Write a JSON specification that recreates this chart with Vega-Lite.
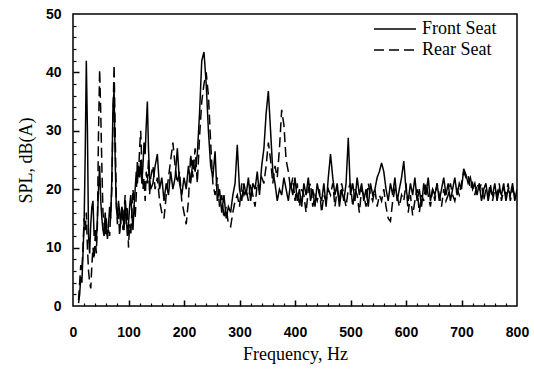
{
 "$schema": "https://vega.github.io/schema/vega-lite/v6.json",
 "width": 444,
 "height": 292,
 "autosize": {"type": "none"},
 "padding": {"left": 73, "top": 14, "right": 17, "bottom": 64},
 "background": "white",
 "data": {"values": [
  {"f":10,"front":0.5,"rear":1},{"f":12,"front":2,"rear":4},{"f":14,"front":5,"rear":7},{"f":16,"front":4,"rear":6},{"f":18,"front":9,"rear":10},
  {"f":20,"front":14,"rear":15},{"f":22,"front":26,"rear":13},{"f":24,"front":42,"rear":16},{"f":26,"front":30,"rear":10},{"f":28,"front":12,"rear":6},
  {"f":30,"front":9,"rear":4},{"f":32,"front":14,"rear":3},{"f":34,"front":17,"rear":7},{"f":36,"front":18,"rear":10},{"f":38,"front":12,"rear":8},
  {"f":40,"front":13,"rear":12},{"f":42,"front":11,"rear":9},{"f":44,"front":15,"rear":14},{"f":46,"front":20,"rear":30},{"f":48,"front":24,"rear":40.5},
  {"f":50,"front":18,"rear":33},{"f":52,"front":15,"rear":24},{"f":54,"front":13,"rear":16},{"f":56,"front":12,"rear":14},{"f":58,"front":16,"rear":12},
  {"f":60,"front":13,"rear":15},{"f":62,"front":12,"rear":11.5},{"f":64,"front":14,"rear":13},{"f":66,"front":17,"rear":12},{"f":68,"front":15,"rear":16},
  {"f":70,"front":22,"rear":20},{"f":72,"front":34,"rear":32},{"f":74,"front":37,"rear":41.3},{"f":76,"front":25,"rear":30},{"f":78,"front":17,"rear":18},
  {"f":80,"front":15,"rear":14},{"f":82,"front":18,"rear":16},{"f":84,"front":16,"rear":12},{"f":86,"front":14,"rear":15},{"f":88,"front":17,"rear":17},
  {"f":90,"front":16,"rear":13},{"f":92,"front":13,"rear":16},{"f":94,"front":18,"rear":19},{"f":96,"front":15,"rear":14},{"f":98,"front":12,"rear":17},
  {"f":100,"front":14,"rear":10},{"f":102,"front":17,"rear":14},{"f":104,"front":19,"rear":12},{"f":106,"front":16,"rear":16},{"f":108,"front":13,"rear":20},
  {"f":110,"front":17,"rear":18},{"f":112,"front":20,"rear":15},{"f":114,"front":23,"rear":19},{"f":116,"front":21,"rear":25},{"f":118,"front":24,"rear":22},
  {"f":120,"front":22,"rear":27},{"f":122,"front":25,"rear":30},{"f":124,"front":21,"rear":24},{"f":126,"front":24,"rear":20},{"f":128,"front":28,"rear":22},
  {"f":130,"front":26,"rear":18},{"f":132,"front":31,"rear":23},{"f":134,"front":35,"rear":21},{"f":136,"front":27,"rear":25},{"f":138,"front":22,"rear":19},
  {"f":140,"front":20,"rear":22},{"f":144,"front":21,"rear":24},{"f":148,"front":24,"rear":20},{"f":152,"front":26,"rear":22},{"f":156,"front":20,"rear":18},
  {"f":160,"front":22,"rear":16},{"f":164,"front":18,"rear":15},{"f":168,"front":21,"rear":19},{"f":172,"front":19,"rear":22},{"f":176,"front":23,"rear":25},
  {"f":180,"front":20,"rear":28},{"f":184,"front":22,"rear":24},{"f":188,"front":27,"rear":21},{"f":192,"front":21,"rear":23},{"f":196,"front":19,"rear":18},
  {"f":200,"front":22,"rear":16},{"f":204,"front":20,"rear":14},{"f":208,"front":24,"rear":18},{"f":212,"front":21,"rear":26},{"f":216,"front":25,"rear":22},
  {"f":220,"front":23,"rear":27},{"f":224,"front":26,"rear":21},{"f":228,"front":33,"rear":29},{"f":232,"front":42,"rear":35},{"f":236,"front":43.5,"rear":38},
  {"f":240,"front":38,"rear":40},{"f":244,"front":30,"rear":36},{"f":248,"front":24,"rear":28},{"f":252,"front":22,"rear":21},{"f":256,"front":26.5,"rear":19},
  {"f":260,"front":18,"rear":22},{"f":264,"front":20,"rear":17},{"f":268,"front":16,"rear":19},{"f":272,"front":19,"rear":15},{"f":276,"front":15,"rear":17},
  {"f":280,"front":17,"rear":14},{"f":284,"front":16,"rear":13.6},{"f":288,"front":19,"rear":16},{"f":292,"front":21,"rear":18},{"f":296,"front":27.6,"rear":19},
  {"f":300,"front":20,"rear":17},{"f":304,"front":18,"rear":21},{"f":308,"front":21,"rear":19},{"f":312,"front":19,"rear":20},{"f":316,"front":22,"rear":18},
  {"f":320,"front":18,"rear":21},{"f":324,"front":21,"rear":19},{"f":328,"front":20,"rear":17},{"f":332,"front":23,"rear":21},{"f":336,"front":19,"rear":20},
  {"f":340,"front":24,"rear":22},{"f":344,"front":27,"rear":21},{"f":348,"front":33,"rear":24},{"f":352,"front":36.8,"rear":28},{"f":356,"front":30,"rear":25},
  {"f":360,"front":23,"rear":21},{"f":364,"front":21,"rear":24},{"f":368,"front":18,"rear":22},{"f":372,"front":20,"rear":27},{"f":376,"front":19,"rear":33.6},
  {"f":380,"front":22,"rear":31},{"f":384,"front":20,"rear":25},{"f":388,"front":18,"rear":23},{"f":392,"front":21,"rear":20},{"f":396,"front":19,"rear":22},
  {"f":400,"front":22,"rear":18},{"f":404,"front":18,"rear":21},{"f":408,"front":20,"rear":17},{"f":412,"front":17,"rear":20},{"f":416,"front":21,"rear":19},
  {"f":420,"front":19,"rear":16},{"f":424,"front":22,"rear":20},{"f":428,"front":18,"rear":21},{"f":432,"front":20,"rear":17},{"f":436,"front":17,"rear":19},
  {"f":440,"front":21,"rear":18},{"f":444,"front":19,"rear":20},{"f":448,"front":18,"rear":16},{"f":452,"front":21,"rear":19},{"f":456,"front":17,"rear":18},
  {"f":460,"front":22,"rear":20},{"f":464,"front":26,"rear":19},{"f":468,"front":22,"rear":21},{"f":472,"front":19,"rear":17},{"f":476,"front":21,"rear":20},
  {"f":480,"front":17,"rear":18},{"f":484,"front":20,"rear":21},{"f":488,"front":18,"rear":19},{"f":492,"front":21,"rear":17},{"f":496,"front":28.8,"rear":20},
  {"f":500,"front":19,"rear":21},{"f":504,"front":21,"rear":17},{"f":508,"front":18,"rear":20},{"f":512,"front":22,"rear":19},{"f":516,"front":19,"rear":16},
  {"f":520,"front":21,"rear":20},{"f":524,"front":18,"rear":19},{"f":528,"front":20,"rear":17},{"f":532,"front":17,"rear":21},{"f":536,"front":21,"rear":19},
  {"f":540,"front":19,"rear":18},{"f":544,"front":20,"rear":20},{"f":548,"front":22,"rear":17},{"f":552,"front":23,"rear":19},{"f":556,"front":24.5,"rear":18},
  {"f":560,"front":23,"rear":20},{"f":564,"front":20,"rear":17},{"f":568,"front":18,"rear":15},{"f":572,"front":21,"rear":14.5},{"f":576,"front":19,"rear":18},
  {"f":580,"front":22,"rear":20},{"f":584,"front":18,"rear":19},{"f":588,"front":20,"rear":17},{"f":592,"front":22,"rear":19},{"f":596,"front":24.8,"rear":18},
  {"f":600,"front":20,"rear":21},{"f":604,"front":18,"rear":16},{"f":608,"front":21,"rear":19},{"f":612,"front":19,"rear":15.5},{"f":616,"front":22,"rear":18},
  {"f":620,"front":18,"rear":20},{"f":624,"front":20,"rear":16},{"f":628,"front":17,"rear":19},{"f":632,"front":21,"rear":18},{"f":636,"front":19,"rear":21},
  {"f":640,"front":22,"rear":19},{"f":644,"front":18,"rear":17},{"f":648,"front":20,"rear":20},{"f":652,"front":19,"rear":18},{"f":656,"front":21,"rear":21},
  {"f":660,"front":18,"rear":19},{"f":664,"front":20,"rear":17},{"f":668,"front":22,"rear":20},{"f":672,"front":19,"rear":18},{"f":676,"front":21,"rear":19},
  {"f":680,"front":18,"rear":21},{"f":684,"front":20,"rear":19},{"f":688,"front":22,"rear":18},{"f":692,"front":19,"rear":20},{"f":696,"front":21,"rear":19},
  {"f":700,"front":20,"rear":21},{"f":704,"front":23.5,"rear":23},{"f":708,"front":22.5,"rear":22},{"f":712,"front":21,"rear":22.5},{"f":716,"front":22,"rear":20},
  {"f":720,"front":20,"rear":21},{"f":724,"front":21,"rear":19},{"f":728,"front":19,"rear":21},{"f":732,"front":21,"rear":20},{"f":736,"front":18,"rear":21},
  {"f":740,"front":20,"rear":18},{"f":744,"front":21,"rear":20},{"f":748,"front":18,"rear":19},{"f":752,"front":20,"rear":21},{"f":756,"front":19,"rear":18},
  {"f":760,"front":21,"rear":20},{"f":764,"front":18,"rear":19},{"f":768,"front":20,"rear":21},{"f":772,"front":19,"rear":18},{"f":776,"front":21,"rear":20},
  {"f":780,"front":18,"rear":19},{"f":784,"front":20,"rear":21},{"f":788,"front":19,"rear":18},{"f":792,"front":21,"rear":20},{"f":796,"front":18,"rear":19},
  {"f":800,"front":20,"rear":19}
 ]},
 "transform": [{"fold": ["front", "rear"], "as": ["seat", "spl"]}],
 "layer": [
  {
   "mark": {"type": "line", "color": "black", "strokeWidth": 1.5, "clip": true},
   "encoding": {
    "x": {
     "field": "f", "type": "quantitative",
     "scale": {"domain": [0, 800], "nice": false, "zero": false},
     "axis": {
      "orient": "bottom",
      "title": "Frequency, Hz",
      "values": [0,100,200,300,400,500,600,700,800],
      "tickSize": -6,
      "tickOpacity": 0,
      "labelFlush": false,
      "labelPadding": 25,
      "titlePadding": 6,
      "gridOpacity": 0,
      "domain": false
     }
    },
    "y": {
     "field": "spl", "type": "quantitative",
     "scale": {"domain": [0, 50], "nice": false, "zero": false},
     "axis": {
      "orient": "left",
      "title": "SPL, dB(A)",
      "values": [0,10,20,30,40,50],
      "tickSize": -6,
      "tickOpacity": 0,
      "labelPadding": 18,
      "titlePadding": 10,
      "gridOpacity": 0,
      "domain": false
     }
    },
    "strokeDash": {
     "field": "seat", "type": "nominal",
     "scale": {"domain": ["front", "rear"], "range": [[1, 0], [10, 5]]},
     "legend": {
      "title": null,
      "orient": "none",
      "legendX": 327,
      "legendY": 6,
      "symbolType": "M-5,0H1",
      "symbolSize": 196,
      "symbolStrokeWidth": 1.3,
      "symbolStrokeColor": "black",
      "symbolFillColor": "transparent",
      "labelExpr": "datum.value === 'front' ? 'Front Seat' : 'Rear Seat'",
      "labelFont": "Liberation Serif",
      "labelFontSize": 18,
      "labelColor": "black",
      "labelOffset": 4,
      "rowPadding": 3,
      "padding": 0
     }
    }
   }
  },
  {
   "mark": {"type": "line", "opacity": 0},
   "encoding": {
    "x": {
     "field": "f", "type": "quantitative",
     "scale": {"domain": [0, 800], "nice": false, "zero": false},
     "axis": {
      "orient": "bottom",
      "title": null,
      "values": [100,200,300,400,500,600,700],
      "labels": false,
      "ticks": true,
      "tickSize": -6,
      "tickWidth": 1.5,
      "tickColor": "black",
      "gridOpacity": 0,
      "domain": false
     }
    },
    "y": {
     "field": "spl", "type": "quantitative",
     "scale": {"domain": [0, 50], "nice": false, "zero": false},
     "axis": {
      "orient": "left",
      "title": null,
      "values": [10,20,30,40],
      "labels": false,
      "ticks": true,
      "tickSize": -6,
      "tickWidth": 1.5,
      "tickColor": "black",
      "gridOpacity": 0,
      "domain": false
     }
    },
    "detail": {"field": "seat", "type": "nominal"}
   }
  },
  {
   "mark": {"type": "line", "opacity": 0},
   "encoding": {
    "x": {
     "field": "f", "type": "quantitative",
     "scale": {"domain": [0, 800], "nice": false, "zero": false},
     "axis": {
      "orient": "bottom",
      "title": null,
      "values": [20,40,60,80,120,140,160,180,220,240,260,280,320,340,360,380,420,440,460,480,520,540,560,580,620,640,660,680,720,740,760,780],
      "labels": false,
      "ticks": true,
      "tickSize": -3,
      "tickWidth": 1.2,
      "tickColor": "black",
      "gridOpacity": 0,
      "domain": false
     }
    },
    "y": {
     "field": "spl", "type": "quantitative",
     "scale": {"domain": [0, 50], "nice": false, "zero": false},
     "axis": {
      "orient": "left",
      "title": null,
      "values": [2,4,6,8,12,14,16,18,22,24,26,28,32,34,36,38,42,44,46,48],
      "labels": false,
      "ticks": true,
      "tickSize": -3,
      "tickWidth": 1.2,
      "tickColor": "black",
      "gridOpacity": 0,
      "domain": false
     }
    },
    "detail": {"field": "seat", "type": "nominal"}
   }
  }
 ],
 "resolve": {"axis": {"x": "independent", "y": "independent"}},
 "config": {
  "view": {"stroke": "black", "strokeWidth": 1.5},
  "axis": {
   "labelFont": "Liberation Sans",
   "labelFontWeight": "bold",
   "labelFontSize": 14,
   "labelColor": "black",
   "titleFont": "Liberation Serif",
   "titleFontWeight": "normal",
   "titleFontSize": 18,
   "titleColor": "black"
  }
 }
}
